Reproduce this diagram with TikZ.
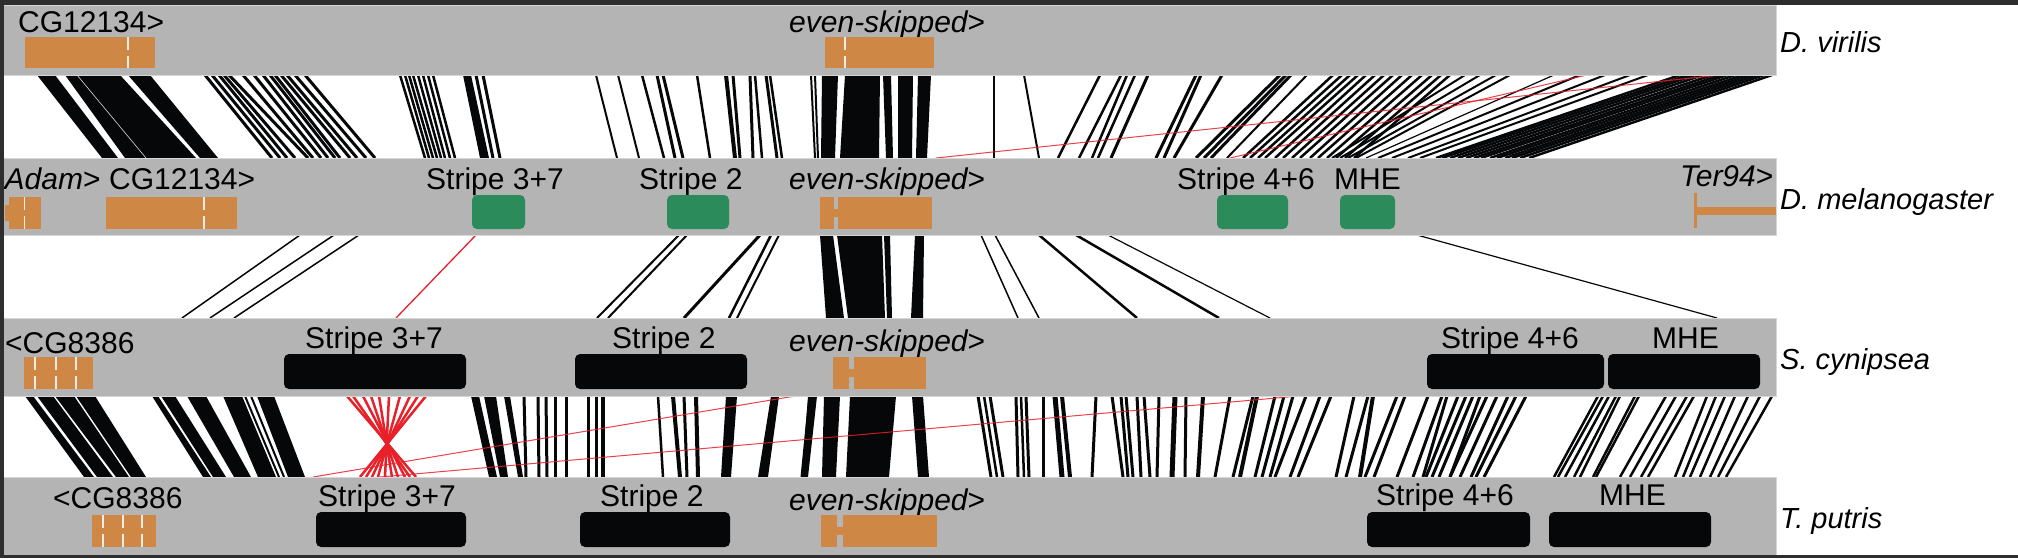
\documentclass[tikz,border=0pt]{standalone}
\usepackage{fontspec}
\setmainfont{Liberation Sans}
\definecolor{bandgray}{RGB}{179,180,179}
\definecolor{bandedge}{RGB}{214,214,214}
\definecolor{genec}{RGB}{206,135,69}
\definecolor{enhc}{RGB}{43,139,91}
\definecolor{framec}{RGB}{46,46,46}
\definecolor{sync}{RGB}{5,7,8}
\definecolor{invc}{RGB}{232,32,42}
\newcommand{\synpoly}[6]{\fill[sync] (#3,#1) -- (#4,#1) -- (#6,#2) -- (#5,#2) -- cycle;}
\newcommand{\splitat}[3]{\draw[white!85!genec,line width=1.2] (#1,#2) -- (#1,{(#2+#3)/2-3}) (#1,{(#2+#3)/2+3}) -- (#1,#3);}
\newcommand{\evegene}[6]{\fill[genec] (#1,#5) rectangle (#2,#6); \fill[genec] (#3,#5) rectangle (#4,#6); \fill[genec] (#2,{(#5+#6)/2-4}) rectangle (#3,{(#5+#6)/2+4});}
\begin{document}
\begin{tikzpicture}[x=1pt,y=-1pt,
  bandbox/.style={fill=bandgray,draw=bandedge,line width=0.8},
  lab/.style={inner sep=0,anchor=base west,font=\fontsize{30}{36}\selectfont},
  splab/.style={inner sep=0,anchor=base west,font=\fontsize{29}{34}\selectfont\itshape},
  greenbox/.style={fill=enhc,rounded corners=5},
  blackbox/.style={fill=sync,rounded corners=5},
  redline/.style={draw=invc,line width=1,opacity=0.85}]
\useasboundingbox (0,0) rectangle (2018,558);
\fill[white] (0,0) rectangle (2018,558);

% ---------------- gap 1 : D. virilis -> D. melanogaster
\synpoly{75}{158}{37}{55}{102}{118}
\synpoly{75}{158}{65}{120}{125}{196}
\draw[white!70!gray,line width=0.6] (77,75) -- (146,158);
\synpoly{75}{158}{128}{150}{200}{218}
\foreach \t/\b in {205/272,212/280,219/287,224/295,229/308,243/313,254/321,263/328,270/335,275/340,281/350,287/357,295/366,305/375}
  {\draw[sync,line width=3] (\t,75) -- (\b,158);}
\foreach \t/\b in {400/425,405/429,409/433,413/437,418/441,423/445,428/450,433/455}
  {\draw[sync,line width=2.5] (\t,75) -- (\b,158);}
\synpoly{75}{158}{463}{471}{480}{489}
\foreach \t/\b/\w in {476/493/3,483/500/3,596/617/2,618/639/2,642/664/2.5,657/675/3,663/683/3,697/710/2.5,726/735/4,733/740/3,750/753/3,755/762/2.5,766/777/3,770/782/2.5,811/815/2,815/818/2}
  {\draw[sync,line width=\w] (\t,75) -- (\b,158);}
\synpoly{75}{158}{822}{838}{821}{835}
\synpoly{75}{158}{845}{880}{840}{879}
\synpoly{75}{158}{883}{891}{886}{893}
\synpoly{75}{158}{898}{913}{898}{912}
\synpoly{75}{158}{918}{931}{916}{927}
\foreach \t/\b/\w in {994/994/2,1024/1039/2,1100/1058/2.5,1121/1079/2.5,1127/1092/2.5,1135/1098/2.5,1148/1111/3,1196/1156/3,1201/1164/3,1222/1174/3,1280/1196/3,1286/1204/3,1291/1211/3,1307/1227/2}
  {\draw[sync,line width=\w] (\t,75) -- (\b,158);}
\foreach \t/\b in {1333/1243,1342/1250,1350/1258,1358/1265,1366/1275,1375/1283,1384/1292,1393/1300,1402/1310,1412/1318,1422/1327,1432/1336,1441/1345,1450/1354}
  {\draw[sync,line width=2.5] (\t,75) -- (\b,158);}
\foreach \t/\b/\w in {1465/1332/2,1480/1340/2,1496/1348/2,1510/1356/2,1554/1366/1.2,1580/1378/2,1605/1392/2,1630/1408/2,1648/1420/2}
  {\draw[sync,line width=\w] (\t,75) -- (\b,158);}
\foreach \t/\b in {1680/1436,1688/1442,1695/1450,1703/1458,1712/1466,1720/1474,1727/1481,1735/1490,1743/1497,1750/1505,1757/1512,1764/1520,1772/1529}
  {\draw[sync,line width=2.5] (\t,75) -- (\b,158);}
\draw[redline] (1720,75) -- (936,158);
\draw[redline] (1587,75) -- (1230,158);

% ---------------- gap 2 : D. melanogaster -> S. cynipsea
\foreach \t/\b/\w in {300/182/1.5,334/210/1.5,359/234/1.5,679/597/2,687/608/2,760/684/3,771/729/2.5,779/737/2,981/1018/1.5,995/1039/1.5,1039/1137/2.5,1076/1219/2.5,1108/1270/1.2,1417/1717/1.2}
  {\draw[sync,line width=\w] (\t,235) -- (\b,318);}
\synpoly{235}{318}{820}{833}{826}{844}
\synpoly{235}{318}{837}{882}{848}{885}
\synpoly{235}{318}{884}{890}{887}{892}
\synpoly{235}{318}{915}{924}{911}{923}
\draw[invc,line width=1.3] (476,235) -- (396,318);

% ---------------- gap 3 : S. cynipsea -> T. putris
\synpoly{396}{477}{25}{33}{84}{94}
\synpoly{396}{477}{37}{53}{97}{113}
\synpoly{396}{477}{55}{74}{116}{129}
\synpoly{396}{477}{76}{95}{131}{146}
\synpoly{396}{477}{152}{158}{203}{211}
\synpoly{396}{477}{161}{175}{213}{226}
\synpoly{396}{477}{187}{206}{234}{251}
\synpoly{396}{477}{223}{242}{258}{276}
\draw[sync,line width=2] (245,396) -- (279,477);
\draw[sync,line width=2] (251,396) -- (284,477);
\synpoly{396}{477}{257}{274}{288}{305}
\synpoly{396}{477}{471}{479}{489}{497}
\synpoly{396}{477}{484}{496}{500}{508}
\synpoly{396}{477}{504}{510}{518}{523}
\foreach \t/\b/\w in {524/526/3,538/539/3,546/547/3,555/555/3,566/566/3,588/588/3,596/596/3,603/603/4,658/663/2.5,673/680/4,684/687/3,696/698/4,810/802/3}
  {\draw[sync,line width=\w] (\t,396) -- (\b,477);}
\synpoly{396}{477}{726}{737}{721}{731}
\synpoly{396}{477}{771}{779}{758}{768}
\synpoly{396}{477}{808}{817}{802}{808}
\synpoly{396}{477}{824}{840}{822}{836}
\synpoly{396}{477}{850}{896}{846}{889}
\synpoly{396}{477}{912}{923}{918}{929}
\foreach \t/\b/\w in {978/991/3,984/997/2.5,990/1003/3,1016/1018/3,1021/1024/2.5,1026/1029/3,1043/1043/3,1055/1062/5,1062/1070/4,1096/1092/3,1112/1123/3,1121/1128/3,1126/1133/3,1137/1141/3,1144/1150/3,1159/1157/3,1175/1172/5,1186/1185/3,1203/1198/4,1230/1215/3,1253/1233/3,1257/1240/4,1275/1255/3,1284/1262/3,1293/1270/3,1306/1275/3,1320/1290/3,1331/1298/3}
  {\draw[sync,line width=\w] (\t,396) -- (\b,477);}
\foreach \t/\b/\w in {1354/1336/3,1368/1346/3,1373/1360/4,1397/1365/3,1405/1374/3,1428/1397/3,1442/1413/3,1447/1423/3,1458/1426/3,1466/1432/3,1473/1439/3,1480/1450/3,1487/1450/3,1497/1460/3,1508/1471/3,1516/1476/3,1526/1484/3}
  {\draw[sync,line width=\w] (\t,396) -- (\b,477);}
\foreach \t/\b in {1598/1554,1603/1558,1609/1565,1616/1574,1620/1580,1635/1593,1639/1596,1666/1620,1676/1630,1687/1641,1694/1648,1707/1675,1716/1683,1725/1690,1735/1700,1748/1710,1760/1718,1772/1726}
  {\draw[sync,line width=2.5] (\t,396) -- (\b,477);}
\foreach \t/\b in {347/416,353/410,363/405,371/398,379/392,389/385,400/378,410/372,418/366,426/360}
  {\draw[invc,line width=2.5] (\t,396) -- (\b,477);}
\draw[redline] (795,396) -- (313,477);
\draw[redline] (1299,396) -- (380,477);

% ---------------- bands
\path[bandbox] (3.5,5) rectangle (1776,75);
\path[bandbox] (3.5,158) rectangle (1776,235);
\path[bandbox] (3.5,318) rectangle (1776,396);
\path[bandbox] (3.5,477) rectangle (1776,555);

% ---------------- band 1 : D. virilis
\node[lab] (v-cg) at (18,32) {CG12134>};
\fill[genec] (25,37) rectangle (155,68);
\splitat{128}{37}{68}
\node[lab] (v-eve) at (789,32) {\itshape even-skipped\upshape >};
\fill[genec] (825,37) rectangle (934,68);
\splitat{845}{37}{68}
\node[splab] (sp-v) at (1780,52) {D. virilis};

% ---------------- band 2 : D. melanogaster
\node[lab] (m-adam) at (4.5,189) {\itshape Adam\upshape >};
\fill[genec] (4.5,205) rectangle (10,221);
\fill[genec] (9,197) rectangle (41,229);
\splitat{24.5}{197}{229}
\node[lab] (m-cg) at (109,189) {CG12134>};
\fill[genec] (106,197) rectangle (237,229);
\splitat{204}{197}{229}
\node[lab] (m-s37) at (426,189) {Stripe 3+7};
\fill[greenbox] (472,195) rectangle (525,229);
\node[lab] (m-s2) at (639,189) {Stripe 2};
\fill[greenbox] (667,195) rectangle (729,229);
\node[lab] (m-eve) at (789,189) {\itshape even-skipped\upshape >};
\evegene{820}{834}{838}{932}{197}{229}
\node[lab] (m-s46) at (1177,189) {Stripe 4+6};
\fill[greenbox] (1217,195) rectangle (1288,229);
\node[lab] (m-mhe) at (1334,189) {MHE};
\fill[greenbox] (1340,195) rectangle (1395,229);
\node[lab] (m-ter) at (1680,186) {\itshape Ter94\upshape >};
\fill[genec] (1694,193) rectangle (1696.5,228);
\fill[genec] (1695,207) rectangle (1776,215);
\node[splab] (sp-m) at (1780,209) {D. melanogaster};

% ---------------- band 3 : S. cynipsea
\node[lab] (c-cg) at (5,353) {<CG8386};
\fill[genec] (24,357) rectangle (93,389);
\splitat{35}{357}{389}\splitat{56}{357}{389}\splitat{76}{357}{389}
\node[lab] (c-s37) at (305,348) {Stripe 3+7};
\fill[blackbox] (284,354) rectangle (466,389);
\node[lab] (c-s2) at (612,348) {Stripe 2};
\fill[blackbox] (575,354) rectangle (747,389);
\node[lab] (c-eve) at (789,351) {\itshape even-skipped\upshape >};
\evegene{833}{849}{854}{926}{357}{389}
\node[lab] (c-s46) at (1441,348) {Stripe 4+6};
\fill[blackbox] (1427,354) rectangle (1604,389);
\node[lab] (c-mhe) at (1652,348) {MHE};
\fill[blackbox] (1608,354) rectangle (1760,389);
\node[splab] (sp-c) at (1780,369) {S. cynipsea};

% ---------------- band 4 : T. putris
\node[lab] (p-cg) at (53,508) {<CG8386};
\fill[genec] (92,515) rectangle (156,547);
\splitat{103}{515}{547}\splitat{123}{515}{547}\splitat{142}{515}{547}
\node[lab] (p-s37) at (318,506) {Stripe 3+7};
\fill[blackbox] (316,512) rectangle (466,547);
\node[lab] (p-s2) at (600,506) {Stripe 2};
\fill[blackbox] (580,512) rectangle (730,547);
\node[lab] (p-eve) at (789,510) {\itshape even-skipped\upshape >};
\evegene{821}{837}{843}{937}{515}{547}
\node[lab] (p-s46) at (1376,505) {Stripe 4+6};
\fill[blackbox] (1367,512) rectangle (1530,547);
\node[lab] (p-mhe) at (1599,505) {MHE};
\fill[blackbox] (1549,512) rectangle (1711,547);
\node[splab] (sp-p) at (1780,528) {T. putris};

% ---------------- frame of the screenshot
\fill[framec] (0,0) rectangle (2018,5);
\fill[framec] (0,0) rectangle (3.5,558);
\fill[framec] (0,555) rectangle (2018,558);
\end{tikzpicture}
\end{document}
